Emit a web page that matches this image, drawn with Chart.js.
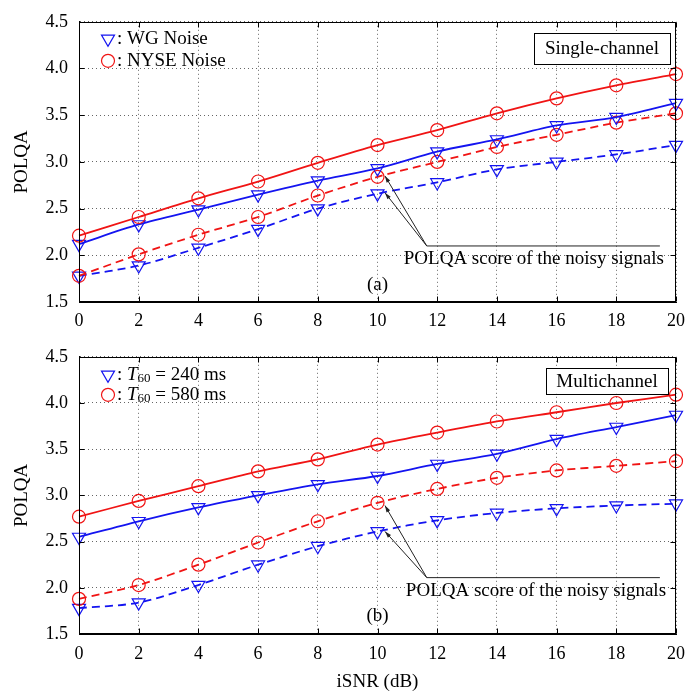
<!DOCTYPE html>
<html>
<head>
<meta charset="utf-8">
<script src="https://cdn.jsdelivr.net/npm/chart.js@4.4.0/dist/chart.umd.min.js"></script>
<style>
  html, body { margin: 0; padding: 0; background: #fff; }
  #contenedor { position: relative; width: 696px; height: 693px; }
  canvas { position: absolute; left: 0; }
</style>
</head>
<body>
<div id="contenedor">
  <canvas id="graficoA" width="696" height="335" style="top:0px"></canvas>
  <canvas id="graficoB" width="696" height="358" style="top:335px"></canvas>
</div>
<script>
// DATOS
const isnr = [0, 2, 4, 6, 8, 10, 12, 14, 16, 18, 20];
const ticksX = [0, 2, 4, 6, 8, 10, 12, 14, 16, 18, 20];
const ticksY = [1.5, 2.0, 2.5, 3.0, 3.5, 4.0, 4.5];

// (a) Single-channel
const nyseMejorado = [2.21, 2.41, 2.61, 2.79, 2.99, 3.18, 3.34, 3.52, 3.68, 3.82, 3.94];
const wgMejorado   = [2.12, 2.33, 2.49, 2.65, 2.80, 2.93, 3.11, 3.24, 3.39, 3.48, 3.63];
const nyseRuidosa  = [1.78, 2.01, 2.22, 2.41, 2.64, 2.84, 3.00, 3.16, 3.29, 3.42, 3.52];
const wgRuidosa    = [1.78, 1.89, 2.08, 2.28, 2.50, 2.66, 2.78, 2.92, 3.00, 3.08, 3.18];

// (b) Multichannel
const t580Mejorado = [2.77, 2.94, 3.10, 3.26, 3.39, 3.55, 3.68, 3.80, 3.90, 4.00, 4.09];
const t240Mejorado = [2.55, 2.72, 2.87, 3.00, 3.12, 3.21, 3.34, 3.45, 3.61, 3.74, 3.87];
const t580Ruidosa  = [1.88, 2.03, 2.25, 2.49, 2.72, 2.92, 3.07, 3.19, 3.27, 3.32, 3.37];
const t240Ruidosa  = [1.78, 1.84, 2.03, 2.25, 2.45, 2.61, 2.73, 2.81, 2.86, 2.89, 2.91];

const AZUL = 'rgb(20,20,240)';
const ROJO = 'rgb(240,20,20)';
const FUENTE = '"Liberation Serif", "DejaVu Serif", serif';

function serie(valores, color, tipo, punteada) {
  return {
    data: isnr.map((x, i) => ({ x, y: valores[i] })),
    borderColor: color,
    borderWidth: 1.8,
    borderDash: punteada ? [8, 5] : [],
    tension: 0.3,
    pointStyle: tipo === 'tri' ? 'triangle' : 'circle',
    rotation: tipo === 'tri' ? 180 : 0,
    pointRadius: tipo === 'tri' ? 7.5 : 6.5,
    pointBorderWidth: 1.2,
    pointBorderColor: color,
    pointBackgroundColor: 'rgba(255,255,255,0)',
    clip: false
  };
}

// PLUGIN: marco, ticks interiores, leyenda, caja y flechas
const anotaciones = {
  id: 'anotaciones',
  afterDraw(chart, args, o) {
    const { ctx, chartArea: a, scales: { x, y } } = chart;
    ctx.save();
    // marco completo
    ctx.strokeStyle = '#000';
    ctx.lineWidth = 1;
    ctx.setLineDash([]);
    const L = Math.round(a.left) + 0.5, R = Math.round(a.right) - 0.5;
    const T = Math.round(a.top) + 0.5, B = Math.round(a.bottom) - 0.5;
    ctx.strokeRect(L, T, R - L, B - T);
    // ticks hacia adentro
    ctx.beginPath();
    ticksX.forEach(v => {
      const px = Math.round(x.getPixelForValue(v)) + 0.5;
      ctx.moveTo(px, B); ctx.lineTo(px, B - 5);
      ctx.moveTo(px, T); ctx.lineTo(px, T + 5);
    });
    ticksY.forEach(v => {
      const py = Math.round(y.getPixelForValue(v)) + 0.5;
      ctx.moveTo(L, py); ctx.lineTo(L + 5, py);
      ctx.moveTo(R, py); ctx.lineTo(R - 5, py);
    });
    ctx.stroke();

    // leyenda
    ctx.textBaseline = 'middle';
    ctx.textAlign = 'left';
    ctx.fillStyle = '#000';
    const lx = a.left + 29;
    o.leyenda.forEach((item, i) => {
      const ly = a.top + o.leyendaY[i];
      ctx.strokeStyle = item.color;
      ctx.lineWidth = 1.2;
      ctx.beginPath();
      if (item.tipo === 'tri') {
        const r = 7.5;
        ctx.moveTo(lx - r * 0.866, ly - r * 0.5);
        ctx.lineTo(lx + r * 0.866, ly - r * 0.5);
        ctx.lineTo(lx, ly + r);
        ctx.closePath();
      } else {
        ctx.arc(lx, ly, 6.5, 0, Math.PI * 2);
      }
      ctx.stroke();
      let tx = lx + 9;
      item.partes.forEach(p => {
        ctx.font = p.f + FUENTE;
        ctx.fillText(p.t, tx, ly + (p.dy || 0));
        tx += ctx.measureText(p.t).width;
      });
    });

    // caja de texto
    const c = o.caja;
    const bx = a.right - c.der - c.ancho, by = a.top + c.arriba;
    ctx.fillStyle = '#fff';
    ctx.fillRect(bx, by, c.ancho, c.alto);
    ctx.strokeStyle = '#000';
    ctx.lineWidth = 1;
    ctx.strokeRect(Math.round(bx) + 0.5, Math.round(by) + 0.5, c.ancho, c.alto);
    ctx.fillStyle = '#000';
    ctx.font = '19px ' + FUENTE;
    ctx.textAlign = 'center';
    ctx.fillText(c.texto, bx + c.ancho / 2, by + c.alto / 2 + 1);

    // flechas
    const f = o.flechas;
    const ox = x.getPixelForValue(f.origen[0]), oy = y.getPixelForValue(f.origen[1]);
    ctx.strokeStyle = '#222';
    ctx.fillStyle = '#222';
    ctx.lineWidth = 1;
    ctx.beginPath();
    ctx.moveTo(ox, oy);
    ctx.lineTo(x.getPixelForValue(f.finLinea), oy);
    ctx.stroke();
    f.puntas.forEach(([vx, vy]) => {
      const px = x.getPixelForValue(vx), py = y.getPixelForValue(vy);
      ctx.beginPath();
      ctx.moveTo(ox, oy);
      ctx.lineTo(px, py);
      ctx.stroke();
      const ang = Math.atan2(py - oy, px - ox);
      ctx.beginPath();
      ctx.moveTo(px, py);
      ctx.lineTo(px - 7 * Math.cos(ang - 0.3), py - 7 * Math.sin(ang - 0.3));
      ctx.lineTo(px - 7 * Math.cos(ang + 0.3), py - 7 * Math.sin(ang + 0.3));
      ctx.closePath();
      ctx.fill();
    });
    ctx.fillStyle = '#000';
    ctx.font = '19px ' + FUENTE;
    ctx.textAlign = 'left';
    ctx.fillText('POLQA score of the noisy signals', x.getPixelForValue(f.texto[0]), y.getPixelForValue(f.texto[1]));

    // etiqueta (a)/(b)
    ctx.textAlign = 'center';
    ctx.fillText(o.letra, x.getPixelForValue(10), y.getPixelForValue(o.letraY));
    ctx.restore();
  }
};

function opciones(altoEjeX, padTop, tituloX, padTicksX, extra) {
  return {
    responsive: false,
    animation: false,
    devicePixelRatio: 1,
    layout: { padding: { top: padTop, right: 20, bottom: 0, left: 0 } },
    plugins: { legend: { display: false }, tooltip: { enabled: false }, anotaciones: extra },
    scales: {
      x: {
        type: 'linear', min: 0, max: 20,
        afterBuildTicks: s => { s.ticks = ticksX.map(v => ({ value: v })); },
        afterFit: s => { s.height = altoEjeX; },
        ticks: { color: '#000', font: { family: FUENTE, size: 18 }, padding: padTicksX, maxRotation: 0 },
        grid: { color: '#666', lineWidth: 1, drawTicks: false },
        border: { display: true, color: '#000', width: 1, dash: [1, 3] },
        title: { display: !!tituloX, text: tituloX, color: '#000', font: { family: FUENTE, size: 19 }, padding: { top: 0, bottom: 0 } }
      },
      y: {
        type: 'linear', min: 1.5, max: 4.5,
        afterBuildTicks: s => { s.ticks = ticksY.map(v => ({ value: v })); },
        afterFit: s => { s.width = 79; },
        ticks: { color: '#000', font: { family: FUENTE, size: 18 }, padding: 11, callback: v => v.toFixed(1) },
        grid: { color: '#666', lineWidth: 1, drawTicks: false },
        border: { display: true, color: '#000', width: 1, dash: [1, 3] },
        title: { display: true, text: 'POLQA', color: '#000', font: { family: FUENTE, size: 19 }, padding: { top: 11, bottom: 0 } }
      }
    }
  };
}

// GRÁFICO (a)
new Chart(document.getElementById('graficoA'), {
  type: 'line',
  data: {
    datasets: [
      serie(nyseMejorado, ROJO, 'circ', false),
      serie(wgMejorado, AZUL, 'tri', false),
      serie(nyseRuidosa, ROJO, 'circ', true),
      serie(wgRuidosa, AZUL, 'tri', true)
    ]
  },
  options: opciones(33, 7, '', 8, {
    leyenda: [
      { tipo: 'tri', color: AZUL, partes: [{ t: ': WG Noise', f: '19px ' }] },
      { tipo: 'circ', color: ROJO, partes: [{ t: ': NYSE Noise', f: '19px ' }] }
    ],
    leyendaY: [17, 39],
    caja: { texto: 'Single-channel', der: 6, arriba: 11, ancho: 136, alto: 31 },
    flechas: { origen: [11.65, 2.10], finLinea: 19.46, puntas: [[10.25, 2.85], [10.25, 2.67]], texto: [10.88, 1.96] },
    letra: '(a)', letraY: 1.68
  }),
  plugins: [anotaciones]
});

// GRÁFICO (b)
new Chart(document.getElementById('graficoB'), {
  type: 'line',
  data: {
    datasets: [
      serie(t580Mejorado, ROJO, 'circ', false),
      serie(t240Mejorado, AZUL, 'tri', false),
      serie(t580Ruidosa, ROJO, 'circ', true),
      serie(t240Ruidosa, AZUL, 'tri', true)
    ]
  },
  options: opciones(59, 5, 'iSNR (dB)', 9, {
    leyenda: [
      { tipo: 'tri', color: AZUL, partes: [{ t: ': ', f: '19px ' }, { t: 'T', f: 'italic 19px ' }, { t: '60', f: '13px ', dy: 4 }, { t: ' = 240 ms', f: '19px ' }] },
      { tipo: 'circ', color: ROJO, partes: [{ t: ': ', f: '19px ' }, { t: 'T', f: 'italic 19px ' }, { t: '60', f: '13px ', dy: 4 }, { t: ' = 580 ms', f: '19px ' }] }
    ],
    leyendaY: [18, 38],
    caja: { texto: 'Multichannel', der: 8, arriba: 11, ancho: 122, alto: 26 },
    flechas: { origen: [11.65, 2.11], finLinea: 19.46, puntas: [[10.25, 2.89], [10.25, 2.61]], texto: [10.95, 1.97] },
    letra: '(b)', letraY: 1.69
  }),
  plugins: [anotaciones]
});
</script>
</body>
</html>
